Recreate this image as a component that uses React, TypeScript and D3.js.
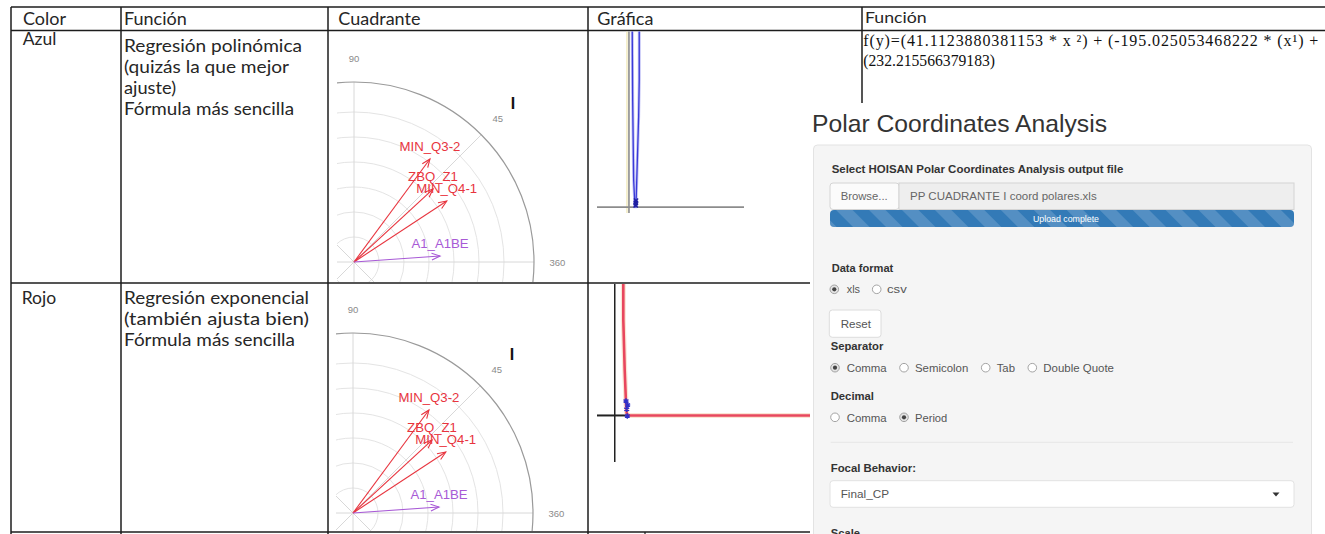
import React from "react";
import * as d3 from "d3";

// ---------------- data ----------------
const headerLabels = ["Color", "Función", "Cuadrante", "Gráfica", "Función"];
const rowColorNames = ["Azul", "Rojo"];
const rowDescriptions = [
  [" Regresión polinómica", "(quizás la que mejor", "ajuste)", "Fórmula más sencilla"],
  [" Regresión exponencial", "(también ajusta bien)", "Fórmula más sencilla"],
];
const formulaLines = [
  "f(y)=(41.1123880381153 * x ²) + (-195.025053468222 * (x¹) +",
  "(232.215566379183)",
];

const vectorLabels = ["MIN_Q3-2", "ZBQ_Z1", "MIN_Q4-1", "A1_A1BE"];
const vectorAngles = [53.6, 42.7, 33.3, 4.0];
const vectorRadii = [5.12, 4.3, 4.44, 3.45];
const vectorGroups = ["conducta", "conducta", "conducta", "A1"];
const ringValues = [1, 2, 3, 4, 5, 6];
const radiusMax = 7.2;
const gridAngles = [0, 45, 90, 135];
const angleTickValues = [90, 45, 360];
const quadrantName = "I";

const polyCurveX = [1.03, 1.16, 1.47, 1.78, 1.88, 2.1, 2.28, 2.6, 3.03, 3.22, 3.22];
const polyCurveY = [60, 36.5, 9.2, 2.4, 0.1, 0.1, 3.5, 15, 30.8, 43.3, 60];
const polyPointX = [2.1, 2.15, 2.2];
const polyPointY = [0.6, 1.4, 2.2];

const expCurveX = [2.41, 2.41, 2.8, 3.17, 3.37, 3.82, 55];
const expCurveY = [36.9, 26.7, 12.7, 3.4, 0.6, 0, 0];
const expPointX = [3.17, 3.63, 3.37, 3.54];
const expPointY = [4.05, 2.93, 1.73, -0.14];

const appTitle = "Polar Coordinates Analysis";
const fileLabel = "Select HOISAN Polar Coordinates Analysis output file";
const browseLabel = "Browse...";
const fileName = "PP CUADRANTE I coord polares.xls";
const progressLabel = "Upload complete";
const formatLabel = "Data format";
const formatOptions = ["xls", "csv"];
const resetLabel = "Reset";
const separatorLabel = "Separator";
const separatorOptions = ["Comma", "Semicolon", "Tab", "Double Quote"];
const decimalLabel = "Decimal";
const decimalOptions = ["Comma", "Period"];
const focalLabel = "Focal Behavior:";
const focalValue = "Final_CP";
const scaleLabel = "Scale";

// ---------------- helpers ----------------
const TABLE_FONT = "Lato, 'Open Sans', sans-serif";
const UI_FONT = "'Liberation Sans', Arial, sans-serif";

function T(props: any) {
  const { x, y, w, size, family, weight, fill, anchor, adjust, children, opacity } = props;
  return (
    <text
      x={x}
      y={y}
      fontSize={size}
      fontFamily={family || TABLE_FONT}
      fontWeight={weight || "normal"}
      fill={fill || "#222"}
      textAnchor={anchor || "start"}
      opacity={opacity}
      {...(w ? { textLength: w, lengthAdjust: adjust || "spacingAndGlyphs" } : {})}
    >
      {children}
    </text>
  );
}

function Polar({ cx, cy, id, clip }: any) {
  const r = d3.scaleLinear().domain([0, radiusMax]).range([0, 180]);
  const rad = (d: number) => (d * Math.PI) / 180;
  const pt = (deg: number, v: number) => [cx + r(v) * Math.cos(rad(deg)), cy - r(v) * Math.sin(rad(deg))];
  const color = d3.scaleOrdinal<string, string>().domain(["conducta", "A1"]).range(["#e8343e", "#a85ad6"]);
  return (
    <g>
      <clipPath id={id}>
        <rect x={clip[0]} y={clip[1]} width={clip[2]} height={clip[3]} />
      </clipPath>
      <g clipPath={`url(#${id})`}>
        {ringValues.map((v) => (
          <circle key={v} cx={cx} cy={cy} r={r(v)} fill="none" stroke="#e4e4e4" strokeWidth={1} />
        ))}
        {gridAngles.map((a) => {
          const p1 = pt(a, radiusMax);
          const p2 = pt(a + 180, radiusMax);
          return <line key={a} x1={p1[0]} y1={p1[1]} x2={p2[0]} y2={p2[1]} stroke="#d8d8d8" strokeWidth={1} />;
        })}
        <circle cx={cx} cy={cy} r={r(radiusMax)} fill="none" stroke="#9a9a9a" strokeWidth={1.2} />
        {vectorLabels.map((lab, i) => {
          const a = vectorAngles[i];
          const tip = pt(a, vectorRadii[i]);
          const c = color(vectorGroups[i]);
          const back1 = [tip[0] + 9 * Math.cos(rad(a + 180 - 22)), tip[1] - 9 * Math.sin(rad(a + 180 - 22))];
          const back2 = [tip[0] + 9 * Math.cos(rad(a + 180 + 22)), tip[1] - 9 * Math.sin(rad(a + 180 + 22))];
          return (
            <g key={lab}>
              <line x1={cx} y1={cy} x2={tip[0]} y2={tip[1]} stroke={c} strokeWidth={1.1} />
              <polyline
                points={`${back1[0]},${back1[1]} ${tip[0]},${tip[1]} ${back2[0]},${back2[1]}`}
                fill="none"
                stroke={c}
                strokeWidth={1.1}
              />
              <text
                x={tip[0]}
                y={tip[1] - 8}
                textAnchor="middle"
                fontFamily={UI_FONT}
                fontSize={13.2}
                fill={c}
              >
                {lab}
              </text>
            </g>
          );
        })}
      </g>
      {angleTickValues.map((t) => {
        const p = pt(t % 360, radiusMax * 1.13);
        return (
          <text
            key={t}
            x={p[0]}
            y={p[1] + 3.5}
            textAnchor="middle"
            fontFamily={UI_FONT}
            fontSize={9.5}
            fill="#8a8a8a"
          >
            {t}
          </text>
        );
      })}
      {(() => {
        const p = pt(45, radiusMax * 1.25);
        return (
          <text x={p[0]} y={p[1] + 6} textAnchor="middle" fontFamily={UI_FONT} fontSize={16} fontWeight="bold" fill="#111">
            {quadrantName}
          </text>
        );
      })()}
    </g>
  );
}

function PolyGraph() {
  const x = d3.scaleLinear().domain([-10, 36]).range([597, 744]);
  const y = d3.scaleLinear().domain([-2, 60]).range([213, 31]);
  const line = d3.line<number>().x((_, i) => x(polyCurveX[i])).y((_, i) => y(polyCurveY[i]));
  const sym = d3.symbol().type(d3.symbolTimes).size(14);
  return (
    <g>
      <clipPath id="cg1">
        <rect x={590} y={31.5} width={270} height={250} />
      </clipPath>
      <g clipPath="url(#cg1)">
        <line x1={x(0) - 2} x2={x(0) - 2} y1={31} y2={y(-2)} stroke="#efe6b0" strokeWidth={1.2} />
        <line x1={x(0)} x2={x(0)} y1={31} y2={y(-2)} stroke="#8c8c8c" strokeWidth={1.6} />
        <line x1={x(-10)} x2={x(36)} y1={y(0)} y2={y(0)} stroke="#8c8c8c" strokeWidth={1.6} />
        <path d={line(polyCurveX) || ""} fill="none" stroke="#9a9af0" strokeWidth={3} opacity={0.6} />
        <path d={line(polyCurveX) || ""} fill="none" stroke="#3a3ad8" strokeWidth={1.3} />
        {polyPointX.map((v, i) => (
          <path key={i} d={sym() || ""} transform={`translate(${x(v)},${y(polyPointY[i])})`} stroke="#1f1fa0" strokeWidth={1.4} fill="none" />
        ))}
      </g>
    </g>
  );
}

function ExpGraph() {
  const x = d3.scaleLinear().domain([-5, 55]).range([597, 810]);
  const y = d3.scaleLinear().domain([-13, 37]).range([462, 283]);
  const line = d3.line<number>().x((_, i) => x(expCurveX[i])).y((_, i) => y(expCurveY[i]));
  const sym = d3.symbol().type(d3.symbolAsterisk).size(22);
  return (
    <g>
      <clipPath id="cg2">
        <rect x={590} y={284} width={220} height={247} />
      </clipPath>
      <g clipPath="url(#cg2)">
        <line x1={x(0)} x2={x(0)} y1={283} y2={y(-13)} stroke="#222" strokeWidth={1.5} />
        <line x1={x(-5)} x2={x(4)} y1={y(0)} y2={y(0)} stroke="#222" strokeWidth={2} />
        <path d={line(expCurveX) || ""} fill="none" stroke="#f6c9a8" strokeWidth={5} opacity={0.5} />
        <path d={line(expCurveX) || ""} fill="none" stroke="#e8475e" strokeWidth={2.6} />
        {expPointX.map((v, i) => (
          <path key={i} d={sym() || ""} transform={`translate(${x(v)},${y(expPointY[i])})`} stroke="#3030c8" strokeWidth={1.5} fill="none" />
        ))}
      </g>
    </g>
  );
}

function Radio({ cx, cy, on }: any) {
  return (
    <g>
      <circle cx={cx} cy={cy} r={4.3} fill={on ? "#e4e4e4" : "#fff"} stroke="#9a9a9a" strokeWidth={0.9} />
      {on && <circle cx={cx} cy={cy} r={2.1} fill="#444" />}
    </g>
  );
}

function ShinyPanel() {
  const lab = (txt: string, x: number, y: number, w: number) => (
    <T x={x} y={y} w={w} size={11.4} family={UI_FONT} weight="bold" fill="#333">
      {txt}
    </T>
  );
  const opt = (txt: string, x: number, y: number, w: number) => (
    <T x={x} y={y} w={w} size={11.4} family={UI_FONT} fill="#555">
      {txt}
    </T>
  );
  const formatX = [834.3, 876.7];
  const formatTX = [[846.7, 13.3], [887, 19.7]];
  const sepX = [835, 904, 985.7, 1032.3];
  const sepTX = [[846.7, 40], [915, 53.3], [996.7, 18.3], [1043.3, 70.7]];
  const decX = [835, 904];
  const decTX = [[846.7, 40], [915, 32.3]];
  return (
    <g>
      <defs>
        <pattern id="stripes" patternUnits="userSpaceOnUse" width={23.3} height={23.3} patternTransform="rotate(-45)">
          <rect x={0} y={0} width={11.65} height={23.3} fill="#fff" fillOpacity={0.16} />
        </pattern>
      </defs>
      <rect x={810} y={103} width={515} height={431} fill="#fff" />
      <T x={812} y={132} w={295} size={24.6} family={UI_FONT} fill="#333">
        {appTitle}
      </T>
      <rect x={813.5} y={145} width={498} height={420} rx={4} fill="#f5f5f5" stroke="#e3e3e3" strokeWidth={1} />
      {lab(fileLabel, 831.7, 173.3, 291.6)}
      <rect x={830} y={183} width={69} height={26.5} rx={3} fill="#fbfbfb" stroke="#d4d4d4" />
      <rect x={899} y={183} width={395} height={26.5} fill="#eeeeee" stroke="#d4d4d4" />
      <T x={840.7} y={200} w={47} size={11.4} family={UI_FONT} fill="#666">
        {browseLabel}
      </T>
      <T x={910} y={200} w={186.7} size={11.4} family={UI_FONT} fill="#666">
        {fileName}
      </T>
      <rect x={830} y={210} width={464} height={17} rx={4} fill="#337ab7" />
      <rect x={830} y={210} width={464} height={17} rx={4} fill="url(#stripes)" />
      <T x={1066} y={221.5} w={66} size={9.5} family={UI_FONT} fill="#fff" anchor="middle">
        {progressLabel}
      </T>
      {lab(formatLabel, 831.7, 271.7, 61.6)}
      {formatOptions.map((o, i) => (
        <g key={o}>
          <Radio cx={formatX[i]} cy={289.3} on={i === 0} />
          {opt(o, formatTX[i][0], 293.3, formatTX[i][1])}
        </g>
      ))}
      <rect x={829.3} y={310} width={51.7} height={27.3} rx={3} fill="#fff" stroke="#dcdcdc" />
      <T x={840.7} y={328.3} w={30.3} size={11.4} family={UI_FONT} fill="#555">
        {resetLabel}
      </T>
      {lab(separatorLabel, 830.7, 350, 52.6)}
      {separatorOptions.map((o, i) => (
        <g key={o}>
          <Radio cx={sepX[i]} cy={367.7} on={i === 0} />
          {opt(o, sepTX[i][0], 371.7, sepTX[i][1])}
        </g>
      ))}
      {lab(decimalLabel, 830.7, 400, 43.3)}
      {decimalOptions.map((o, i) => (
        <g key={o}>
          <Radio cx={decX[i]} cy={417.3} on={i === 1} />
          {opt(o, decTX[i][0], 421.5, decTX[i][1])}
        </g>
      ))}
      <line x1={830.7} x2={1293} y1={442.3} y2={442.3} stroke="#e6e6e6" strokeWidth={1} />
      {lab(focalLabel, 830.7, 471.7, 85.3)}
      <rect x={830} y={480.7} width={464} height={26.6} rx={3} fill="#fff" stroke="#e2e2e2" />
      <T x={840.7} y={498.3} w={48.3} size={11.4} family={UI_FONT} fill="#555">
        {focalValue}
      </T>
      <path d="M1272.5,492.5 L1279.5,492.5 L1276,496.5 Z" fill="#333" />
      {lab(scaleLabel, 830.7, 536.5, 29.3)}
    </g>
  );
}

export default function App() {
  const colX = [11, 121, 328, 588, 862];
  const headerX = [23, 124, 338.3, 597.3];
  const lineCol = "#1c1c1c";
  const row1W = [178, 165, 52, 170];
  const row2W = [185, 185, 171];
  return (
    <svg
      width={1325}
      height={534}
      viewBox="0 0 1325 534"
      style={{ position: "absolute", left: 0, top: 0, background: "#fff" }}
    >
      <rect x={0} y={0} width={1325} height={534} fill="#fff" />
      {/* table grid */}
      <line x1={colX[0]} x2={1325} y1={7} y2={7} stroke={lineCol} strokeWidth={1.5} />
      <line x1={colX[0]} x2={1325} y1={30.5} y2={30.5} stroke={lineCol} strokeWidth={1.5} />
      <line x1={colX[0]} x2={810} y1={283} y2={283} stroke={lineCol} strokeWidth={1.5} />
      <line x1={colX[0]} x2={810} y1={532} y2={532} stroke={lineCol} strokeWidth={1.5} />
      {colX.slice(0, 4).map((x) => (
        <line key={x} x1={x} x2={x} y1={7} y2={534} stroke={lineCol} strokeWidth={1.5} />
      ))}
      <line x1={colX[4]} x2={colX[4]} y1={7} y2={104} stroke={lineCol} strokeWidth={1.5} />
      <line x1={645} x2={645} y1={532} y2={534} stroke={lineCol} strokeWidth={1.2} />

      {/* headers */}
      {headerLabels.slice(0, 4).map((h, i) => (
        <T key={i} x={headerX[i]} y={25} size={18} fill="#262626">
          {h}
        </T>
      ))}
      <T x={865} y={23.3} w={61.7} size={14.5} fill="#262626">
        {headerLabels[4]}
      </T>

      {/* row 1 */}
      <T x={22.7} y={45} size={17.5} fill="#262626">
        {rowColorNames[0]}
      </T>
      {rowDescriptions[0].map((s, i) => (
        <T key={i} x={124} y={52 + i * 21} size={18} w={row1W[i]} fill="#262626">
          {s}
        </T>
      ))}
      {/* row 2 */}
      <T x={21.7} y={303.5} size={17.5} fill="#262626">
        {rowColorNames[1]}
      </T>
      {rowDescriptions[1].map((s, i) => (
        <T key={i} x={124} y={304 + i * 21} size={18} w={row2W[i]} fill="#262626">
          {s}
        </T>
      ))}

      {/* formula */}
      <T x={863.3} y={45.5} w={455} size={16} family="'Liberation Serif', 'Times New Roman', serif" adjust="spacing" fill="#111">
        {formulaLines[0]}
      </T>
      <T x={863.3} y={65.5} w={131.7} size={16} family="'Liberation Serif', 'Times New Roman', serif" fill="#111">
        {formulaLines[1]}
      </T>

      {/* polar charts */}
      <Polar cx={354} cy={262} id="pc1" clip={[337, 40, 248, 242]} />
      <Polar cx={353} cy={513} id="pc2" clip={[336, 290, 249, 241]} />

      <PolyGraph />
      <ExpGraph />

      <ShinyPanel />
    </svg>
  );
}
